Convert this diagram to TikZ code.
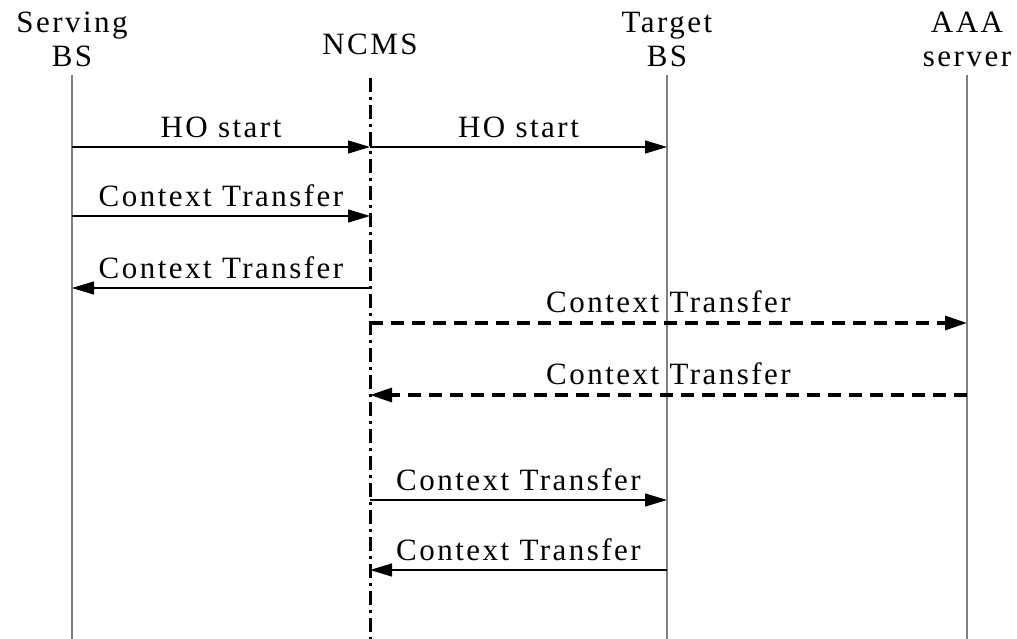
\documentclass[tikz,border=0pt]{standalone}
\usepackage{fontspec}
\setmainfont{Liberation Serif}[LetterSpace=8]
\usetikzlibrary{arrows.meta}

\tikzset{
  hdr/.style={align=center, inner sep=0pt, font=\fontsize{31}{34}\selectfont},
  lbl/.style={inner sep=0pt, font=\fontsize{31}{34}\selectfont},
  life/.style={draw={rgb,255:red,128;green,128;blue,128}, line width=1.5pt},
  ncmsline/.style={line width=3pt, dash pattern=on 14pt off 5pt on 3pt off 5pt},
  msg/.style={line width=1.2pt, -{Triangle[length=22pt,width=13pt]}},
  dmsg/.style={line width=3.2pt, dash pattern=on 13pt off 8pt, -{Triangle[length=22pt,width=14pt]}},
}

\begin{document}
\begin{tikzpicture}[x=1pt,y=-1pt]
\useasboundingbox (0,0) rectangle (1017,639);

% Text Node
\node[hdr, anchor=base] (serv) at (72,67) {Serving\\BS};
% Text Node
\node[hdr, anchor=base] (ncms) at (370,55) {NCMS};
% Text Node
\node[hdr, anchor=base] (targ) at (667,67) {Target\\BS};
% Text Node
\node[hdr, anchor=base] (aaa) at (967,67) {AAA\\server};

% message rows on every lifeline
\foreach \ll/\x in {serv/72,ncms/370,targ/667,aaa/967}{
  \foreach \r/\y in {1/147,2/216,3/288,4/323,5/395,6/500,7/570}{
    \coordinate (\ll\r) at (\x,\y);
  }
  \coordinate (\ll bot) at (\x,639);
}
\coordinate (servtop) at (72,75);
\coordinate (ncmstop) at (370,78);
\coordinate (targtop) at (667,75);
\coordinate (aaatop) at (967,75);

%Lifelines
\draw[life] (servtop) -- (servbot);
\draw[life] (targtop) -- (targbot);
\draw[life] (aaatop) -- (aaabot);
\draw[ncmsline] (ncmstop) -- (ncmsbot);

%Messages
\draw[msg] (serv1) -- node[lbl, above=9pt] (ho1) {HO start} (ncms1);
\draw[msg] (ncms1) -- node[lbl, above=9pt] (ho2) {HO start} (targ1);
\draw[msg] (serv2) -- node[lbl, above=9pt] (ct1) {Context Transfer} (ncms2);
\draw[msg] (ncms3) -- node[lbl, above=9pt] (ct2) {Context Transfer} (serv3);
\draw[dmsg] (ncms4) -- node[lbl, above=9pt] (ct3) {Context Transfer} (aaa4);
\draw[dmsg] (aaa5) -- node[lbl, above=9pt] (ct4) {Context Transfer} (ncms5);
\draw[msg] (ncms6) -- node[lbl, above=9pt] (ct5) {Context Transfer} (targ6);
\draw[msg] (targ7) -- node[lbl, above=9pt] (ct6) {Context Transfer} (ncms7);

\end{tikzpicture}
\end{document}
